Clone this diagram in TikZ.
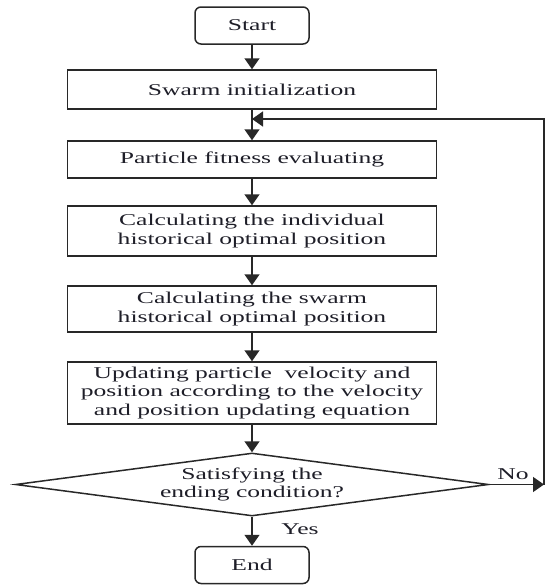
\documentclass[tikz,border=0pt]{standalone}
\usepackage{fontspec}
\usepackage{xcolor}
\setmainfont{Liberation Serif}
\newfontfamily\wideserif[FakeStretch=1.55]{Liberation Serif}
\usetikzlibrary{shapes.geometric,arrows.meta}
\definecolor{linegray}{RGB}{40,40,40}
\definecolor{textgray}{RGB}{30,30,40}
\newcommand{\flowfont}{\wideserif\fontsize{16.5}{18.5}\selectfont}

\tikzset{
  flowbox/.style={draw=linegray, line width=1.5pt, minimum width=369pt, inner sep=0pt, align=center, font=\flowfont, text=textgray},
  termbox/.style={flowbox, rounded corners=6pt, minimum width=114pt, minimum height=37pt},
  decbox/.style={flowbox, diamond, aspect=7.5, minimum width=473pt, minimum height=63pt},
  flowline/.style={draw=linegray, line width=1.5pt},
  flowarrow/.style={flowline, -{Triangle[length=11pt,width=15pt]}},
}

\begin{document}
\begin{tikzpicture}[x=1pt, y=-1pt]
  \useasboundingbox (0,0) rectangle (547,587);

  % Steps of the loop
  \node[termbox] (start) at (252,25.5) {Start};
  \node[flowbox, minimum height=39pt] (init) at (252,89.5) {Swarm initialization};
  \node[flowbox, minimum height=37pt] (fit) at (252,159.5) {Particle fitness evaluating};
  \node[flowbox, minimum height=50pt] (pbest) at (252,231) {Calculating the individual\\ historical optimal position};
  \node[flowbox, minimum height=46pt] (gbest) at (252,309) {Calculating the swarm\\ historical optimal position};
  \node[flowbox, minimum height=62pt] (update) at (252,393) {Updating particle \ velocity and\\ position according to the velocity\\ and position updating equation};
  \node[decbox] (check) at (252,484.5) {Satisfying the\\ ending condition?};
  \node[termbox] (end) at (252,565) {End};

  % Main flow
  \coordinate (join) at (252,119);
  \draw[flowarrow] (start) -- (init);
  \draw[flowline] (init) -- (join);
  \draw[flowarrow] (join) -- (fit);
  \draw[flowarrow] (fit) -- (pbest);
  \draw[flowarrow] (pbest) -- (gbest);
  \draw[flowarrow] (gbest) -- (update);
  \draw[flowarrow] (update) -- (check);
  \draw[flowarrow] (check) -- (end);
  \node[font=\flowfont, text=textgray] (yes) at (300,529) {Yes};

  % Feedback loop
  \coordinate (turn) at (544,484.5);
  \draw[flowarrow] (check.east) -- (turn);
  \draw[flowarrow] (turn) -- (turn |- join) -- (join);
  \node[font=\flowfont, text=textgray] (no) at (513,474) {No};
\end{tikzpicture}
\end{document}
